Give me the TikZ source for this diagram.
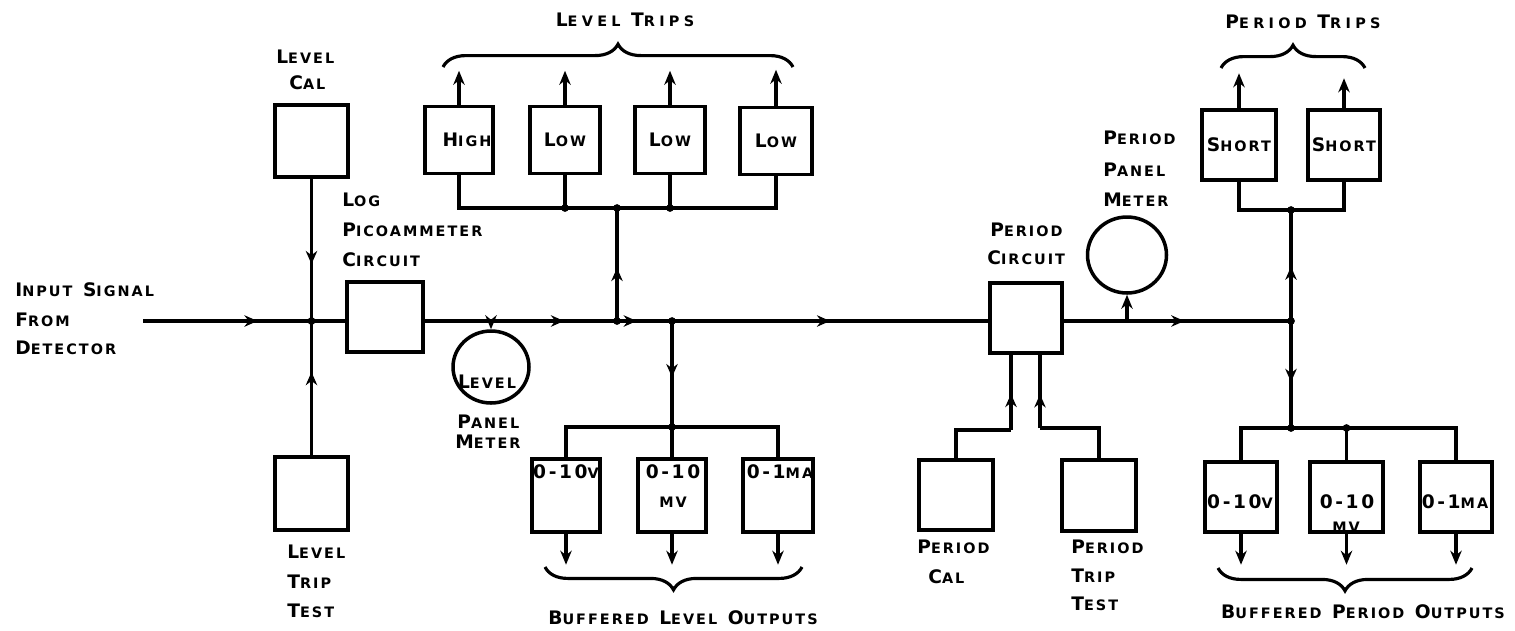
\documentclass[tikz,border=0pt]{standalone}
\usepackage{fontspec}
\setmainfont{DejaVu Sans}[LetterSpace=14]
\usetikzlibrary{arrows.meta,decorations.markings,decorations.pathreplacing,shapes.geometric,calc}
\newcommand\Bg[1]{{\fontsize{10.6}{12}\selectfont #1}}
\newcommand\Sm[1]{{\fontsize{8.2}{12}\selectfont #1}}
\newcommand\wgap{\hspace{6pt}}
\tikzset{
  ln/.style={line width=1.8pt},
  box/.style={draw, line width=2pt, inner sep=0pt, font=\bfseries\fontsize{10.6}{12}\selectfont},
  meter/.style={draw, ellipse, line width=2pt, inner sep=0pt},
  midarrow/.style={postaction={decorate,decoration={markings,mark=at position #1 with {\arrow{Stealth[length=7.5pt,width=6.5pt]}}}}},
  endarrow/.style={-{Stealth[length=8pt,width=6.5pt]}},
  lbl/.style={font=\bfseries\fontsize{10.6}{12}\selectfont, inner sep=0pt, anchor=west},
  ctr/.style={font=\bfseries\fontsize{10.6}{12}\selectfont, inner sep=0pt},
  wide/.style={font=\bfseries\fontsize{10.6}{12}\selectfont\addfontfeature{LetterSpace=30}, inner sep=0pt},
  brc/.style={decorate, decoration={brace, amplitude=13pt}, line width=1.8pt},
}
\begin{document}
\begin{tikzpicture}[x=0.02cm,y=-0.02cm]
\useasboundingbox (0,0) rectangle (1515,630);

% ---------- boxes ----------
\node[box, minimum width=1.46cm, minimum height=1.44cm] (lcal) at (311.5,141) {};
\node[box, minimum width=1.46cm, minimum height=1.46cm] (ltt) at (311.5,493.5) {};
\node[box, minimum width=1.52cm, minimum height=1.40cm] (log) at (385,317) {};

\node[box, minimum width=1.36cm, minimum height=1.34cm] (high) at (459,140) {};
\node[ctr] (hight) at (467,140) {\Bg{H}\Sm{IGH}};
\node[box, minimum width=1.40cm, minimum height=1.34cm] (low1) at (565,140) {\Bg{L}\Sm{OW}};
\node[box, minimum width=1.40cm, minimum height=1.34cm] (low2) at (670,140) {\Bg{L}\Sm{OW}};
\node[box, minimum width=1.44cm, minimum height=1.34cm] (low3) at (776,141) {\Bg{L}\Sm{OW}};

\node[box, minimum width=1.36cm, minimum height=1.46cm] (lo1) at (566,495.5) {};
\node[box, minimum width=1.36cm, minimum height=1.46cm] (lo2) at (672,495.5) {};
\node[box, minimum width=1.40cm, minimum height=1.46cm] (lo3) at (778,495.5) {};
\node[ctr] (lo1t) at (566,472) {\Bg{0-10}\Sm{V}};
\node[ctr] (lo2t) at (673,472) {\Bg{0-10}};
\node[ctr] (lo2u) at (673,502) {\Sm{MV}};
\node[ctr] (lo3t) at (780,472) {\Bg{0-1}\Sm{MA}};

\node[box, minimum width=1.44cm, minimum height=1.40cm] (pc) at (1026,318) {};
\node[box, minimum width=1.48cm, minimum height=1.40cm] (pcal) at (956,495) {};
\node[box, minimum width=1.48cm, minimum height=1.42cm] (ptt) at (1099,495.5) {};

\node[box, minimum width=1.48cm, minimum height=1.40cm] (s1) at (1239,145) {\Bg{S}\Sm{HORT}};
\node[box, minimum width=1.44cm, minimum height=1.40cm] (s2) at (1344,145) {\Bg{S}\Sm{HORT}};

\node[box, minimum width=1.44cm, minimum height=1.40cm] (po1) at (1241,497) {};
\node[box, minimum width=1.46cm, minimum height=1.40cm] (po2) at (1346.5,497) {};
\node[box, minimum width=1.44cm, minimum height=1.40cm] (po3) at (1456,497) {};
\node[ctr] (po1t) at (1240,502) {\Bg{0-10}\Sm{V}};
\node[ctr] (po2t) at (1347,502) {\Bg{0-10}};
\node[ctr] (po2u) at (1346,527) {\Sm{MV}};
\node[ctr] (po3t) at (1455,502) {\Bg{0-1}\Sm{MA}};

% ---------- meters ----------
\node[meter, minimum width=1.52cm, minimum height=1.44cm] (lm) at (491,367) {};
\node[ctr] (lmt) at (487,382) {\Bg{L}\Sm{EVEL}};
\node[meter, minimum width=1.58cm, minimum height=1.52cm] (pm) at (1127,255) {};

% ---------- junctions ----------
\coordinate (in0) at (143,321);
\coordinate (J1) at (311.5,321);
\coordinate (lmT) at (491,321);
\coordinate (J2) at (617,321);
\coordinate (J3) at (672,321);
\coordinate (pmT) at (1127,321);
\coordinate (J4) at (1291,321);
\coordinate (ltb) at (617,208);
\coordinate (lob) at (672,427);
\coordinate (ptb) at (1291,210);
\coordinate (pob) at (1291,428);
\coordinate (pcb1) at (1011,430);
\coordinate (pcb2) at (1040,428);

% ---------- main line ----------
\draw[ln, midarrow=0.68] (in0) -- (J1);
\draw[ln] (J1) -- (J1 -| log.west);
\draw[ln, midarrow=0.6] (lcal.south) -- (J1);
\draw[ln, midarrow=0.62] (ltt.north) -- (J1);
\draw[ln] (J1 -| log.east) -- (lmT);
\draw[ln, midarrow=0.58] (lmT) -- (J2);
\draw[ln, midarrow=0.36] (J2) -- (J3);
\draw[ln, midarrow=0.5] (J3) -- (J3 -| pc.west);
\draw[ln, endarrow] (lmT) -- (lm.north);
\draw[ln] (J3 -| pc.east) -- (pmT);
\draw[ln, endarrow] (pmT) -- (pm.south);
\draw[ln, midarrow=0.35] (pmT) -- (J4);

% ---------- level trips ----------
\draw[ln, midarrow=0.47] (J2) -- (ltb);
\draw[ln] (high.south) -- (high.south |- ltb) -- (low3.south |- ltb) -- (low3.south);
\draw[ln] (low1.south) -- (low1.south |- ltb);
\draw[ln] (low2.south) -- (low2.south |- ltb);
\draw[ln, endarrow] (high.north) -- ++(0,-34);
\draw[ln, endarrow] (low1.north) -- ++(0,-34);
\draw[ln, endarrow] (low2.north) -- ++(0,-34);
\draw[ln, endarrow] (low3.north) -- ++(0,-36);

% ---------- level outputs ----------
\draw[ln, midarrow=0.53] (J3) -- (lob);
\draw[ln] (lo1.north) -- (lo1.north |- lob) -- (lo3.north |- lob) -- (lo3.north);
\draw[ln] (lob) -- (lo2.north);
\draw[ln, endarrow] (lo1.south) -- ++(0,31);
\draw[ln, endarrow] (lo2.south) -- ++(0,31);
\draw[ln, endarrow] (lo3.south) -- ++(0,31);

% ---------- period trips ----------
\draw[ln, midarrow=0.49] (J4) -- (ptb);
\draw[ln] (s1.south) -- (s1.south |- ptb) -- (s2.south |- ptb) -- (s2.south);
\draw[ln, endarrow] (s1.north) -- ++(0,-35);
\draw[ln, endarrow] (s2.north) -- ++(0,-30);

% ---------- period outputs ----------
\draw[ln, midarrow=0.57] (J4) -- (pob);
\draw[ln] (po1.north) -- (po1.north |- pob) -- (po3.north |- pob) -- (po3.north);
\draw[ln] (po2.north) -- (po2.north |- pob);
\draw[ln, endarrow] (po1.south) -- ++(0,31);
\draw[ln, endarrow] (po2.south) -- ++(0,31);
\draw[ln, endarrow] (po3.south) -- ++(0,31);

% ---------- period cal / trip test ----------
\draw[ln] (pcal.north) |- (pcb1);
\draw[ln, midarrow=0.48] (pcb1) -- (pcb1 |- pc.south);
\draw[ln] (ptt.north) |- (pcb2);
\draw[ln, midarrow=0.46] (pcb2) -- (pcb2 |- pc.south);

% ---------- dots ----------
\foreach \p in {J1,J2,J3,J4,ltb,lob,ptb,pob}{\fill (\p) circle[radius=2.2pt];}
\fill (low1.south |- ltb) circle[radius=2.2pt];
\fill (low2.south |- ltb) circle[radius=2.2pt];
\fill (po2.north |- pob) circle[radius=2.2pt];

% ---------- braces ----------
\draw[brc] (443,67) -- (793,67);
\draw[brc] (1221,68) -- (1365,68);
\draw[brc] (802,567) -- (545,567);
\draw[brc] (1472,568) -- (1218,568);

% ---------- labels ----------
\node[wide] (ltl) at (625,20) {\Bg{L}\Sm{EVEL}\wgap\Bg{T}\Sm{RIPS}};
\node[wide] (ptl) at (1303,22) {\Bg{P}\Sm{ERIOD}\wgap\Bg{T}\Sm{RIPS}};
\node[ctr] (lol) at (683,618) {\Bg{B}\Sm{UFFERED}\wgap\Bg{L}\Sm{EVEL}\wgap\Bg{O}\Sm{UTPUTS}};
\node[ctr] (pol) at (1363,612) {\Bg{B}\Sm{UFFERED}\wgap\Bg{P}\Sm{ERIOD}\wgap\Bg{O}\Sm{UTPUTS}};

\node[lbl] (in1) at (15,290) {\Bg{I}\Sm{NPUT}\wgap\Bg{S}\Sm{IGNAL}};
\node[lbl] (in2) at (15,320) {\Bg{F}\Sm{ROM}};
\node[lbl] (in3) at (15,348) {\Bg{D}\Sm{ETECTOR}};

\node[lbl] (lc1) at (276,57) {\Bg{L}\Sm{EVEL}};
\node[lbl] (lc2) at (289,83) {\Bg{C}\Sm{AL}};

\node[lbl] (lg1) at (342,200) {\Bg{L}\Sm{OG}};
\node[lbl] (lg2) at (342,230) {\Bg{P}\Sm{ICOAMMETER}};
\node[lbl] (lg3) at (342,260) {\Bg{C}\Sm{IRCUIT}};

\node[lbl] (lm1) at (457,422) {\Bg{P}\Sm{ANEL}};
\node[lbl] (lm2) at (455,442) {\Bg{M}\Sm{ETER}};

\node[lbl] (lt1) at (287,552) {\Bg{L}\Sm{EVEL}};
\node[lbl] (lt2) at (287,582) {\Bg{T}\Sm{RIP}};
\node[lbl] (lt3) at (287,611) {\Bg{T}\Sm{EST}};

\node[lbl] (pc1) at (990,230) {\Bg{P}\Sm{ERIOD}};
\node[lbl] (pc2) at (987,258) {\Bg{C}\Sm{IRCUIT}};

\node[lbl] (pm1) at (1103,138) {\Bg{P}\Sm{ERIOD}};
\node[lbl] (pm2) at (1103,170) {\Bg{P}\Sm{ANEL}};
\node[lbl] (pm3) at (1103,200) {\Bg{M}\Sm{ETER}};

\node[lbl] (pk1) at (917,547) {\Bg{P}\Sm{ERIOD}};
\node[lbl] (pk2) at (928,577) {\Bg{C}\Sm{AL}};

\node[lbl] (pt1) at (1071,547) {\Bg{P}\Sm{ERIOD}};
\node[lbl] (pt2) at (1071,576) {\Bg{T}\Sm{RIP}};
\node[lbl] (pt3) at (1071,604) {\Bg{T}\Sm{EST}};
\end{tikzpicture}
\end{document}
